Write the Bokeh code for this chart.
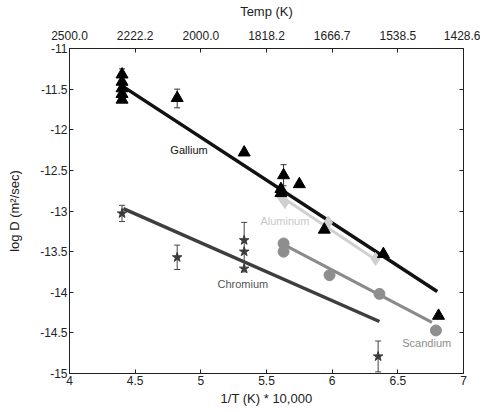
from bokeh.plotting import figure
from bokeh.models import LinearAxis, FixedTicker, Whisker, TeeHead, ColumnDataSource
from bokeh.core.properties import value
from bokeh.embed import file_html
from bokeh.resources import INLINE

FONT = "Liberation Sans"

# x = 1/T (K) * 10,000 ; y = log D (m^2/sec)
x_ticks = [4, 4.5, 5, 5.5, 6, 6.5, 7]
top_tick_labels = ["2500.0", "2222.2", "2000.0", "1818.2", "1666.7", "1538.5", "1428.6"]
y_ticks = [-15, -14.5, -14, -13.5, -13, -12.5, -12, -11.5, -11]

gallium_x = [4.4, 4.4, 4.4, 4.4, 4.4, 4.82, 5.33, 5.61, 5.61, 5.63, 5.75, 5.94, 6.39, 6.81]
gallium_y = [-11.32, -11.41, -11.49, -11.56, -11.63, -11.61, -12.28, -12.73, -12.78, -12.56, -12.67, -13.23, -13.53, -14.29]
gallium_err_x = [4.4, 4.82, 5.63]
gallium_err_lo = [-11.40, -11.73, -12.69]
gallium_err_hi = [-11.25, -11.50, -12.43]
gallium_fit_x = [4.4, 6.8]
gallium_fit_y = [-11.46, -13.99]

aluminum_x = [5.61, 5.64, 5.97, 6.33]
aluminum_y = [-12.82, -12.89, -13.14, -13.59]
aluminum_fit_x = [5.62, 6.35]
aluminum_fit_y = [-12.83, -13.62]

scandium_x = [5.63, 5.63, 5.98, 6.36, 6.79]
scandium_y = [-13.40, -13.50, -13.79, -14.02, -14.47]
scandium_fit_x = [5.65, 6.76]
scandium_fit_y = [-13.43, -14.37]

chromium_x = [4.4, 4.82, 5.33, 5.33, 5.33, 6.35]
chromium_y = [-13.03, -13.57, -13.36, -13.50, -13.71, -14.79]
chromium_err_x = [4.4, 4.82, 5.33, 6.35]
chromium_err_lo = [-13.13, -13.72, -13.75, -14.98]
chromium_err_hi = [-12.93, -13.42, -13.14, -14.60]
chromium_fit_x = [4.41, 6.36]
chromium_fit_y = [-12.97, -14.36]

label_text = ["Gallium", "Aluminum", "Chromium", "Scandium"]
label_x = [4.91, 5.64, 5.32, 6.72]
label_y = [-12.25, -13.12, -13.90, -14.63]
label_color = ["#111111", "#c8c8c8", "#555555", "#8c8c8c"]

p = figure(width=480, height=408, x_range=(4, 7), y_range=(-15, -11),
           output_backend="svg", toolbar_location=None,
           min_border_left=69, min_border_right=17, min_border_top=48, min_border_bottom=35)
p.grid.visible = False
p.outline_line_color = "#222222"
p.background_fill_color = "white"
p.border_fill_color = "white"

def style_axis(ax):
    ax.major_label_text_font = FONT
    ax.major_label_text_font_size = "12px"
    ax.major_label_text_color = "#222222"
    ax.axis_label_text_font = FONT
    ax.axis_label_text_font_size = "13px"
    ax.axis_label_text_font_style = "normal"
    ax.axis_label_text_color = "#222222"
    ax.major_tick_in = 4
    ax.major_tick_out = 0
    ax.minor_tick_in = 0
    ax.minor_tick_out = 0
    ax.axis_line_color = "#222222"
    ax.major_tick_line_color = "#222222"
    ax.major_label_standoff = 2

p.xaxis.ticker = FixedTicker(ticks=x_ticks)
p.yaxis.ticker = FixedTicker(ticks=y_ticks)
p.xaxis.axis_label = "1/T (K) * 10,000"
p.yaxis.axis_label = "log D (m\u00b2/sec)"
p.yaxis.major_label_overrides = {t: ("%g" % t) for t in y_ticks}
style_axis(p.xaxis[0])
style_axis(p.yaxis[0])
p.xaxis.axis_label_standoff = 3
p.yaxis.axis_label_standoff = 15

top = LinearAxis(ticker=FixedTicker(ticks=x_ticks), axis_label="Temp (K)",
                 major_label_overrides={t: s for t, s in zip(x_ticks, top_tick_labels)})
style_axis(top)
top.major_label_standoff = 9
top.axis_label_standoff = 9
p.add_layout(top, "above")

right = LinearAxis(ticker=FixedTicker(ticks=y_ticks),
                   major_label_overrides={t: "" for t in y_ticks})
style_axis(right)
p.add_layout(right, "right")

# fit lines
p.line(chromium_fit_x, chromium_fit_y, line_color="#3e3e3e", line_width=3.5)
p.line(scandium_fit_x, scandium_fit_y, line_color="#8a8a8a", line_width=3)
p.line(aluminum_fit_x, aluminum_fit_y, line_color="#cfcfcf", line_width=3)
p.line(gallium_fit_x, gallium_fit_y, line_color="#111111", line_width=3.5)

# error bars
gsrc = ColumnDataSource(dict(x=gallium_err_x, lo=gallium_err_lo, hi=gallium_err_hi))
p.add_layout(Whisker(source=gsrc, base="x", lower="lo", upper="hi", line_color="#333333",
                     line_width=1,
                     upper_head=TeeHead(size=6, line_color="#333333"),
                     lower_head=TeeHead(size=6, line_color="#333333")))
csrc = ColumnDataSource(dict(x=chromium_err_x, lo=chromium_err_lo, hi=chromium_err_hi))
p.add_layout(Whisker(source=csrc, base="x", lower="lo", upper="hi", line_color="#444444",
                     line_width=1,
                     upper_head=TeeHead(size=6, line_color="#444444"),
                     lower_head=TeeHead(size=6, line_color="#444444")))

# markers
p.scatter(aluminum_x, aluminum_y, marker="diamond", size=13, fill_color="#cfcfcf", line_color="#cfcfcf")
p.scatter(scandium_x, scandium_y, marker="circle", size=11, fill_color="#8e8e8e", line_color="#8e8e8e")
p.scatter(chromium_x, chromium_y, marker="star", size=10, fill_color="#3c3c3c", line_color="#3c3c3c")
p.scatter(gallium_x, gallium_y, marker="triangle", size=12, fill_color="#000000", line_color="#000000")

p.text(label_x, label_y, text=label_text, text_color=label_color,
       text_font=value(FONT), text_font_size="11px",
       text_align="center", text_baseline="middle")

open("out.html", "w").write(file_html(p, INLINE))
